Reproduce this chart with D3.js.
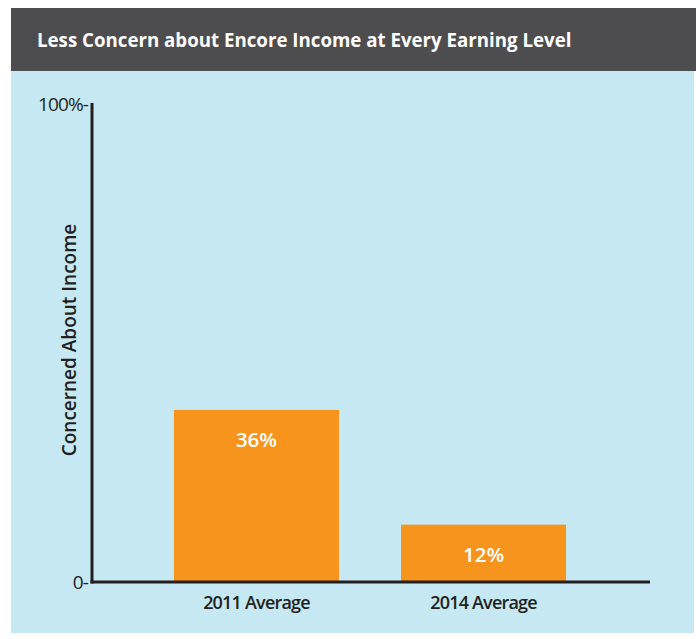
<!DOCTYPE html>
<html><head><meta charset="utf-8">
<script src="https://cdn.jsdelivr.net/npm/d3@7"></script>
<style>body{margin:0;background:#fff;}svg{display:block;font-family:"Open Sans",sans-serif;}</style>
</head><body>
<script>
const title = "Less Concern about Encore Income at Every Earning Level";
const categories = ["2011 Average", "2014 Average"];
const values = [36, 12];
const valueLabels = ["36%", "12%"];
const yTicks = [0, 100];
const yTickLabels = ["0-", "100%-"];
const yTitle = "Concerned About Income";

const W = 696, H = 639;
const svg = d3.select("body").append("svg").attr("width", W).attr("height", H);

svg.append("rect").attr("x", 11).attr("y", 71).attr("width", 683).attr("height", 562).attr("fill", "#c5e8f3");
svg.append("rect").attr("x", 11).attr("y", 8).attr("width", 685).attr("height", 63).attr("fill", "#4d4d4f");
svg.append("text").attr("x", 37).attr("y", 47).attr("fill", "#fff")
  .attr("font-size", 18.7).attr("font-weight", 700).text(title);

const y = d3.scaleLinear().domain([0, 100]).range([582, 104]);
const x = d3.scaleBand().domain(categories).range([92, 648]).paddingInner(0.273).paddingOuter(0.361);

svg.selectAll("rect.bar").data(values).join("rect").attr("class", "bar")
  .attr("x", (d, i) => x(categories[i])).attr("width", x.bandwidth())
  .attr("y", d => y(d)).attr("height", d => y(0) - y(d)).attr("fill", "#f7941d");

svg.selectAll("text.vl").data(values).join("text").attr("class", "vl")
  .attr("x", (d, i) => x(categories[i]) + x.bandwidth() / 2)
  .attr("y", d => y(d) + 37).attr("text-anchor", "middle")
  .attr("fill", "#fff").attr("font-size", 20.5).attr("font-weight", 600)
  .text((d, i) => valueLabels[i]);

// axes lines
svg.append("line").attr("x1", 92).attr("x2", 92).attr("y1", y(100) - 1).attr("y2", y(0) + 1.5)
  .attr("stroke", "#231f20").attr("stroke-width", 3);
svg.append("line").attr("x1", 90.5).attr("x2", 650).attr("y1", y(0)).attr("y2", y(0))
  .attr("stroke", "#231f20").attr("stroke-width", 3);

svg.selectAll("text.yt").data(yTicks).join("text").attr("class", "yt")
  .attr("x", 88).attr("y", d => y(d) + 7).attr("text-anchor", "end")
  .attr("fill", "#231f20").attr("font-size", 19).attr("letter-spacing", -0.9)
  .text((d, i) => yTickLabels[i]);

svg.selectAll("text.xl").data(categories).join("text").attr("class", "xl")
  .attr("x", d => x(d) + x.bandwidth() / 2).attr("y", 609).attr("text-anchor", "middle")
  .attr("fill", "#231f20").attr("font-size", 18).attr("font-weight", 600).attr("letter-spacing", -0.8)
  .text(d => d);

svg.append("text").attr("transform", "translate(76,340) rotate(-90)").attr("text-anchor", "middle")
  .attr("fill", "#231f20").attr("font-size", 19).attr("font-weight", 600).text(yTitle);
</script>
</body></html>
